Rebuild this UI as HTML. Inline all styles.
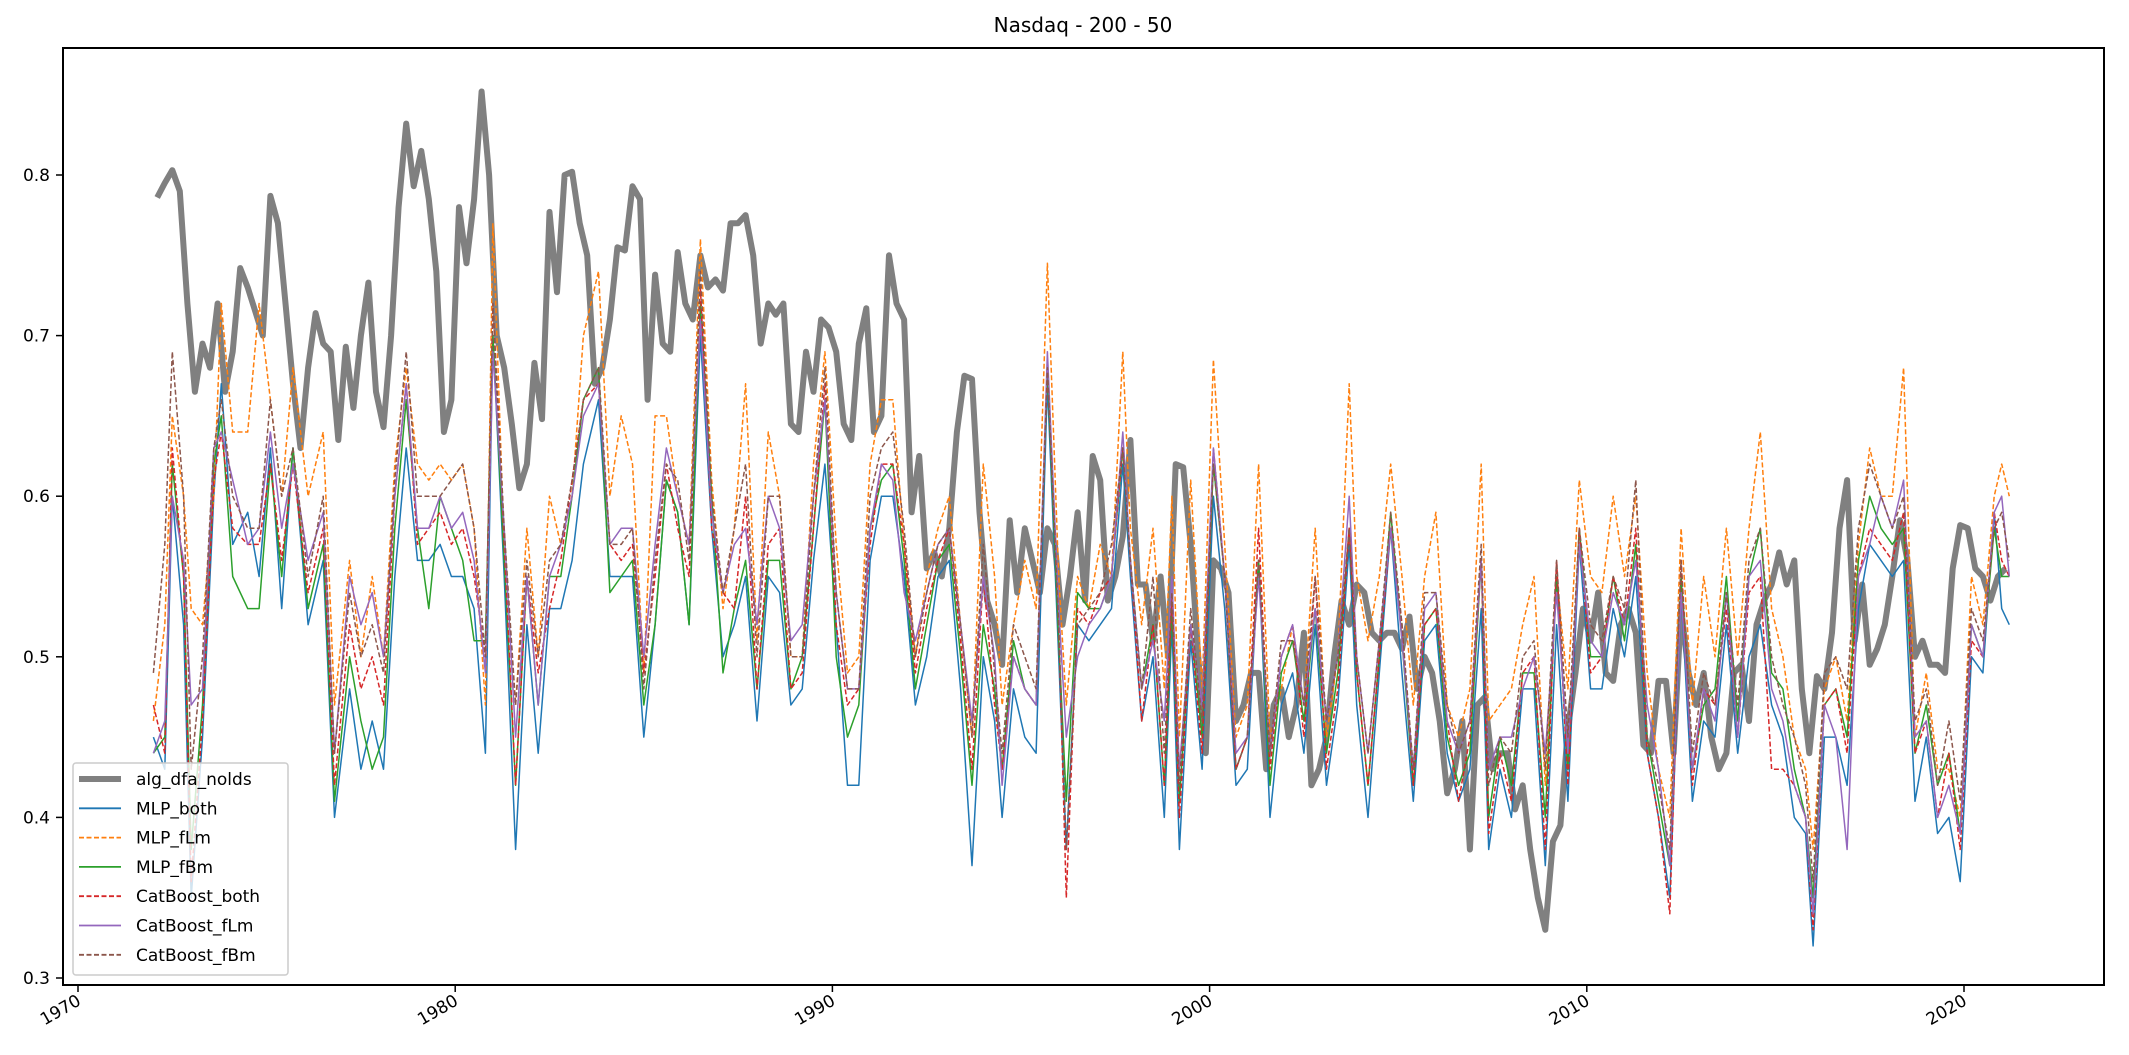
<!DOCTYPE html>
<html><head><meta charset="utf-8">
<style>
html,body{margin:0;padding:0;background:#fff;}
svg{display:block;font-family:"DejaVu Sans","Liberation Sans",sans-serif;}
</style></head>
<body>
<svg id="chart" width="2129" height="1055" viewBox="0 0 2129 1055" xmlns="http://www.w3.org/2000/svg">
<text x="1083" y="32" text-anchor="middle" font-size="20" fill="#000">Nasdaq - 200 - 50</text>
<g id="series"></g>
<rect x="63" y="48" width="2041" height="937" fill="none" stroke="#000" stroke-width="2"/>
<g id="axes"></g>
<g id="legend"></g>
</svg>
<script>
const yTicks = [0.3, 0.4, 0.5, 0.6, 0.7, 0.8];
const xTicks = [1970, 1980, 1990, 2000, 2010, 2020];
const grayStart = 1972.1;
const grayStep = 0.2;
const grayVals = [.786,.795,.803,.79,.72, .665,.695,.68,.72,.665, .69,.742,.73,.715,.70, .787,.77,.72,.67,.63,
.68,.714,.695,.69,.635, .693,.655,.70,.733,.665, .643,.70,.78,.832,.793, .815,.785,.74,.64,.66,
.78,.745,.785,.852,.80, .70,.68,.645,.605,.62, .683,.648,.777,.727,.80, .802,.77,.75,.67,.68,
.71,.755,.753,.793,.785, .66,.738,.695,.69,.752, .72,.71,.75,.73,.735, .728,.77,.77,.775,.75,
.695,.72,.713,.72,.645, .64,.69,.665,.71,.705, .69,.645,.635,.695,.717, .64,.65,.75,.72,.71,
.59,.625,.555,.565,.55, .58,.64,.675,.673,.59, .535,.52,.495,.585,.54, .58,.56,.54,.58,.57,
.52,.55,.59,.535,.625, .61,.535,.55,.575,.635, .545,.545,.51,.55,.50, .62,.618,.57,.50,.44,
.56,.555,.54,.46,.47, .49,.49,.43,.47,.48, .45,.47,.515,.42,.43, .45,.50,.535,.52,.545,
.54,.515,.51,.515,.515, .505,.525,.48,.50,.49, .46,.415,.43,.46,.38, .47,.475,.43,.44,.44,
.405,.42,.38,.35,.33, .385,.395,.455,.49,.53, .51,.54,.49,.485,.52, .53,.515,.445,.44,.485,
.485,.44,.53,.49,.47, .49,.45,.43,.44,.49, .495,.46,.52,.535,.545, .565,.545,.56,.48,.44,
.488,.48,.515,.58,.61, .51,.545,.495,.505,.52, .55,.585,.56,.50,.51, .495,.495,.49,.555,.582,
.58,.555,.55,.535,.55, .555];
const modelDates = [1972.0,1972.3,1972.5,1972.8,1973.0,1973.3,1973.6,1973.8,1974.1,1974.5,
1974.8,1975.1,1975.4,1975.7,1976.1,1976.5,1976.8,1977.2,1977.5,1977.8,
1978.1,1978.4,1978.7,1979.0,1979.3,1979.6,1979.9,1980.2,1980.5,1980.8,
1981.0,1981.3,1981.6,1981.9,1982.2,1982.5,1982.8,1983.1,1983.4,1983.8,
1984.1,1984.4,1984.7,1985.0,1985.3,1985.6,1985.9,1986.2,1986.5,1986.8,
1987.1,1987.4,1987.7,1988.0,1988.3,1988.6,1988.9,1989.2,1989.5,1989.8,
1990.1,1990.4,1990.7,1991.0,1991.3,1991.6,1991.9,1992.2,1992.5,1992.8,
1993.1,1993.4,1993.7,1994.0,1994.3,1994.5,1994.8,1995.1,1995.4,1995.7,
1996.0,1996.2,1996.5,1996.8,1997.1,1997.4,1997.7,1997.9,1998.2,1998.5,
1998.8,1999.0,1999.2,1999.5,1999.8,2000.1,2000.4,2000.7,2001.0,2001.3,
2001.6,2001.9,2002.2,2002.5,2002.8,2003.1,2003.4,2003.7,2003.9,2004.2,
2004.5,2004.8,2005.1,2005.4,2005.7,2006.0,2006.3,2006.6,2006.9,2007.2,
2007.4,2007.7,2008.0,2008.3,2008.6,2008.9,2009.2,2009.5,2009.8,2010.1,
2010.4,2010.7,2011.0,2011.3,2011.6,2011.9,2012.2,2012.5,2012.8,2013.1,
2013.4,2013.7,2014.0,2014.3,2014.6,2014.9,2015.2,2015.5,2015.8,2016.0,
2016.3,2016.6,2016.9,2017.2,2017.5,2017.8,2018.1,2018.4,2018.7,2019.0,
2019.3,2019.6,2019.9,2020.2,2020.5,2020.8,2021.0,2021.2];
const mlpBoth = [.45,.43,.60,.52,.35,.45,.60,.67,.57,.59, .55,.63,.53,.63,.52,.56,.40,.48,.43,.46,
.43,.55,.63,.56,.56,.57,.55,.55,.53,.44, .70,.55,.38,.52,.44,.53,.53,.56,.62,.66,
.55,.55,.55,.45,.52,.61,.59,.52,.70,.58, .50,.52,.55,.46,.55,.54,.47,.48,.56,.62,
.52,.42,.42,.56,.60,.60,.55,.47,.50,.55, .56,.48,.37,.50,.46,.40,.48,.45,.44,.67,
.50,.38,.52,.51,.52,.53,.62,.55,.46,.50, .40,.52,.38,.51,.43,.60,.53,.42,.43,.56,
.40,.47,.49,.44,.52,.42,.47,.57,.47,.40, .49,.58,.49,.41,.51,.52,.44,.41,.43,.53,
.38,.43,.40,.48,.48,.37,.52,.41,.57,.48, .48,.53,.50,.55,.44,.40,.35,.54,.41,.46,
.45,.52,.44,.50,.52,.47,.45,.40,.39,.32, .45,.45,.42,.53,.57,.56,.55,.56,.41,.45,
.39,.40,.36,.50,.49,.59,.53,.52];
const mlpFlm = [.46,.52,.65,.60,.53,.52,.60,.72,.64,.64, .72,.66,.60,.68,.60,.64,.47,.56,.50,.55,
.50,.62,.68,.62,.61,.62,.61,.62,.58,.47, .77,.57,.47,.58,.50,.60,.57,.60,.70,.74,
.60,.65,.62,.49,.65,.65,.60,.57,.76,.61, .53,.58,.67,.51,.64,.60,.50,.50,.62,.69,
.57,.49,.50,.62,.66,.66,.57,.50,.55,.58, .60,.52,.45,.62,.55,.47,.52,.56,.53,.745,
.55,.47,.55,.53,.57,.55,.69,.58,.52,.58, .48,.60,.45,.61,.48,.685,.57,.45,.47,.62,
.45,.48,.52,.47,.58,.45,.50,.67,.55,.51, .55,.62,.55,.47,.55,.59,.47,.45,.48,.62,
.46,.47,.48,.52,.55,.42,.55,.48,.61,.55, .54,.60,.55,.60,.49,.43,.40,.58,.47,.55,
.50,.58,.50,.58,.64,.53,.50,.45,.43,.38, .48,.50,.46,.57,.63,.60,.60,.68,.45,.49,
.43,.43,.40,.55,.52,.60,.62,.60];
const mlpFbm = [.44,.45,.62,.55,.38,.47,.62,.65,.55,.53, .53,.62,.55,.63,.53,.57,.41,.50,.46,.43,
.45,.58,.66,.58,.53,.60,.58,.56,.51,.51, .70,.56,.42,.55,.47,.55,.55,.60,.66,.68,
.54,.55,.56,.47,.52,.61,.59,.52,.72,.60, .49,.53,.56,.48,.56,.56,.48,.50,.58,.66,
.50,.45,.47,.58,.61,.62,.56,.48,.52,.56, .57,.50,.42,.52,.48,.43,.51,.48,.47,.68,
.51,.41,.54,.53,.53,.55,.63,.56,.48,.52, .42,.53,.41,.52,.45,.62,.55,.43,.45,.56,
.42,.49,.51,.46,.53,.44,.49,.58,.49,.42, .50,.59,.51,.42,.52,.53,.45,.42,.44,.56,
.40,.45,.42,.49,.49,.40,.55,.43,.58,.50, .50,.55,.51,.57,.45,.41,.37,.55,.43,.47,
.48,.55,.46,.55,.58,.49,.48,.43,.40,.35, .47,.48,.45,.56,.60,.58,.57,.58,.44,.47,
.42,.44,.39,.52,.50,.58,.55,.55];
const catBoth = [.47,.44,.63,.55,.36,.46,.61,.64,.58,.57, .57,.62,.56,.62,.54,.58,.42,.52,.48,.50,
.47,.60,.67,.57,.58,.59,.57,.58,.55,.50, .72,.57,.42,.55,.49,.53,.56,.61,.66,.67,
.57,.56,.57,.49,.55,.62,.58,.55,.73,.58, .54,.53,.60,.48,.57,.58,.48,.49,.58,.67,
.52,.47,.48,.57,.62,.62,.57,.49,.53,.56, .58,.51,.43,.55,.47,.43,.50,.48,.47,.68,
.52,.35,.53,.52,.54,.55,.63,.56,.46,.52, .42,.54,.40,.52,.44,.63,.55,.43,.45,.58,
.43,.50,.52,.45,.55,.43,.48,.58,.49,.42, .50,.58,.52,.42,.52,.53,.46,.41,.45,.56,
.39,.44,.41,.49,.50,.38,.56,.42,.58,.49, .50,.55,.52,.58,.44,.40,.34,.56,.42,.48,
.47,.53,.45,.54,.55,.43,.43,.42,.40,.33, .47,.48,.44,.55,.58,.57,.56,.59,.44,.46,
.40,.44,.38,.51,.50,.59,.56,.55];
const catFlm = [.44,.46,.60,.56,.47,.48,.63,.64,.61,.57, .58,.64,.58,.62,.56,.59,.44,.55,.52,.54,
.50,.60,.67,.58,.58,.60,.58,.59,.56,.49, .69,.58,.45,.55,.47,.55,.57,.60,.65,.67,
.57,.58,.58,.50,.57,.63,.60,.57,.71,.59, .54,.57,.58,.52,.60,.58,.51,.52,.60,.66,
.54,.48,.48,.58,.62,.61,.54,.51,.54,.57, .58,.52,.46,.55,.50,.42,.50,.48,.47,.69,
.53,.45,.50,.52,.53,.55,.64,.56,.48,.51, .46,.55,.43,.52,.47,.63,.55,.44,.45,.55,
.44,.50,.52,.47,.53,.46,.50,.60,.50,.44, .51,.58,.51,.43,.53,.54,.46,.44,.46,.56,
.43,.45,.45,.48,.50,.44,.54,.44,.57,.51, .50,.54,.52,.56,.47,.43,.37,.54,.43,.48,
.46,.54,.45,.55,.56,.48,.46,.42,.40,.34, .47,.45,.38,.55,.57,.60,.58,.61,.45,.46,
.40,.42,.39,.52,.50,.59,.60,.55];
const catFbm = [.49,.57,.69,.60,.43,.50,.63,.66,.60,.58, .58,.66,.60,.63,.55,.60,.44,.54,.50,.52,
.49,.61,.69,.60,.60,.60,.61,.62,.58,.50, .72,.58,.47,.56,.50,.56,.57,.61,.66,.68,
.57,.57,.58,.48,.56,.62,.61,.56,.74,.60, .54,.58,.62,.50,.60,.60,.50,.50,.60,.68,
.54,.48,.48,.60,.63,.64,.58,.50,.54,.57, .58,.52,.45,.57,.49,.44,.52,.50,.48,.68,
.52,.38,.52,.53,.54,.57,.63,.56,.48,.55, .44,.54,.42,.53,.46,.62,.55,.43,.45,.56,
.44,.51,.51,.47,.55,.46,.50,.58,.50,.44, .51,.59,.52,.43,.54,.54,.47,.44,.46,.57,
.42,.45,.44,.50,.51,.43,.56,.45,.58,.52, .51,.55,.53,.61,.45,.42,.38,.56,.44,.49,
.47,.54,.47,.56,.58,.50,.47,.45,.42,.36, .49,.50,.48,.58,.62,.60,.58,.60,.46,.48,
.42,.46,.41,.53,.51,.58,.59,.56];

const NS = 'http://www.w3.org/2000/svg';
function xs(yr){ return 78 + (yr - 1970) * 37.72; }
function ys(v){ return 978 - (v - 0.3) * 1606; }

const series = document.getElementById('series');
function addLine(xv, yv, color, width, dash, name){
  const p = document.createElementNS(NS, 'polyline');
  const pts = yv.map((v, i) => xs(xv[i]).toFixed(1) + ',' + ys(v).toFixed(1)).join(' ');
  p.setAttribute('points', pts);
  p.setAttribute('fill', 'none');
  p.setAttribute('stroke', color);
  p.setAttribute('stroke-width', width);
  p.setAttribute('stroke-linejoin', 'round');
  if (dash) p.setAttribute('stroke-dasharray', dash);
  
  
  series.appendChild(p);
}
const grayDates = grayVals.map((v, i) => grayStart + i * grayStep);
addLine(grayDates, grayVals, '#808080', 6, null, 'alg-dfa-nolds-line');
addLine(modelDates, mlpBoth, '#1f77b4', 1.5, null, 'mlp-both-line');
addLine(modelDates, mlpFlm, '#ff7f0e', 1.5, '5,2.5', 'mlp-flm-line');
addLine(modelDates, mlpFbm, '#2ca02c', 1.5, null, 'mlp-fbm-line');
addLine(modelDates, catBoth, '#d62728', 1.5, '5,2.5', 'catboost-both-line');
addLine(modelDates, catFlm, '#9467bd', 1.5, null, 'catboost-flm-line');
addLine(modelDates, catFbm, '#8c564b', 1.5, '5,2.5', 'catboost-fbm-line');

const axes = document.getElementById('axes');
yTicks.forEach(t => {
  const y = ys(t);
  const l = document.createElementNS(NS, 'line');
  l.setAttribute('x1', 56); l.setAttribute('x2', 63);
  l.setAttribute('y1', y); l.setAttribute('y2', y);
  l.setAttribute('stroke', '#000'); l.setAttribute('stroke-width', 1.5);
  
  
  axes.appendChild(l);
  const tx = document.createElementNS(NS, 'text');
  tx.setAttribute('x', 50); tx.setAttribute('y', y + 6);
  tx.setAttribute('text-anchor', 'end'); tx.setAttribute('font-size', '17');
  tx.textContent = t.toFixed(1);
  
  
  axes.appendChild(tx);
});
xTicks.forEach(t => {
  const x = xs(t);
  const l = document.createElementNS(NS, 'line');
  l.setAttribute('x1', x); l.setAttribute('x2', x);
  l.setAttribute('y1', 985); l.setAttribute('y2', 992);
  l.setAttribute('stroke', '#000'); l.setAttribute('stroke-width', 1.5);
  
  
  axes.appendChild(l);
  const tx = document.createElementNS(NS, 'text');
  tx.setAttribute('x', x + 4); tx.setAttribute('y', 1004);
  tx.setAttribute('text-anchor', 'end'); tx.setAttribute('font-size', '17');
  tx.setAttribute('transform', 'rotate(-30 ' + (x + 4) + ' 1004)');
  tx.textContent = String(t);
  
  
  axes.appendChild(tx);
});

const legendNames = ['alg_dfa_nolds','MLP_both','MLP_fLm','MLP_fBm','CatBoost_both','CatBoost_fLm','CatBoost_fBm'];
const legendColors = ['#808080','#1f77b4','#ff7f0e','#2ca02c','#d62728','#9467bd','#8c564b'];
const legendDash = [null,null,'5,2.5',null,'5,2.5',null,'5,2.5'];
const legend = document.getElementById('legend');
const box = document.createElementNS(NS, 'rect');
box.setAttribute('x', 73); box.setAttribute('y', 763);
box.setAttribute('width', 215); box.setAttribute('height', 212);
box.setAttribute('rx', 3); box.setAttribute('fill', '#fff'); box.setAttribute('fill-opacity', '0.8');
box.setAttribute('stroke', '#ccc'); box.setAttribute('stroke-width', 1.5);


legend.appendChild(box);
legendNames.forEach((n, i) => {
  const y = 779 + i * 29.3;
  const l = document.createElementNS(NS, 'line');
  l.setAttribute('x1', 79); l.setAttribute('x2', 121);
  l.setAttribute('y1', y); l.setAttribute('y2', y);
  l.setAttribute('stroke', legendColors[i]);
  l.setAttribute('stroke-width', i === 0 ? 6 : 1.8);
  if (legendDash[i]) l.setAttribute('stroke-dasharray', legendDash[i]);
  
  
  legend.appendChild(l);
  const tx = document.createElementNS(NS, 'text');
  tx.setAttribute('x', 136); tx.setAttribute('y', y + 6);
  tx.setAttribute('font-size', '17');
  tx.textContent = n;
  
  
  legend.appendChild(tx);
});
</script>
</body></html>
